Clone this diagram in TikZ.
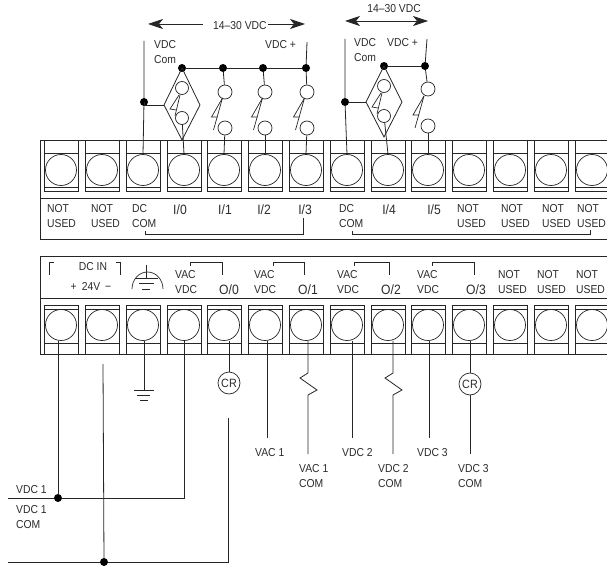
\documentclass[tikz,border=0pt]{standalone}
\usepackage{fontspec}
\setmainfont[FakeStretch=0.9]{Liberation Sans}
\usetikzlibrary{arrows.meta}
\definecolor{wirecol}{HTML}{262626}
\definecolor{labcol}{HTML}{2b2b2b}
\tikzset{
    wire/.style = {draw=wirecol, line width=0.8pt},
    term/.style = {circle, draw=wirecol, line width=0.7pt, minimum size=31pt, inner sep=0pt},
    swc/.style = {circle, draw=wirecol, line width=0.7pt, minimum size=14pt, inner sep=0pt},
    swd/.style = {circle, draw=wirecol, line width=0.7pt, minimum size=13pt, inner sep=0pt},
    crc/.style = {circle, draw=wirecol, line width=0.7pt, minimum size=22pt, inner sep=0pt, text=labcol, font=\fontsize{12}{12}\selectfont},
    jdot/.style = {circle, fill=black, minimum size=8pt, inner sep=0pt},
    lab/.style = {anchor=west, align=left, inner sep=0pt, text=labcol, font=\fontsize{11.5}{15}\selectfont},
    iolab/.style = {anchor=center, inner sep=0pt, text=labcol, font=\fontsize{13.5}{15}\selectfont},
    swblade/.pic = {
        \draw[wire, line width=0.7pt] (0,0) -- (-11,19) -- (-5,19);
        \draw[wire, line width=0.7pt] (0,0) -- (-9,32);
    }
}
\begin{document}
\begin{tikzpicture}[x=1pt, y=-1pt, >={Stealth[length=15pt,width=10pt,inset=4pt]}]
    \clip (0,0) rectangle (607,567);
    \foreach \x [count=\i] in {61,102,143,184,224,265,306,347,388,428,469,510,551,592} {
        \node[term] (ut\i) at (\x,170) {};
        \node[term] (lt\i) at (\x,325) {};
        \draw[wire, line width=0.7pt] (\x-17,141) -- (\x-17,191) -- (\x+17,191) -- (\x+17,141);
        \draw[wire, line width=0.7pt] (\x-17,153) -- (\x+17,153) (\x-17,187) -- (\x+17,187);
        \draw[wire, line width=0.7pt] (\x-17,354) -- (\x-17,305) -- (\x+17,305) -- (\x+17,354);
        \draw[wire, line width=0.7pt] (\x-17,309) -- (\x+17,309) (\x-17,343) -- (\x+17,343);
    }
    \draw[wire] (607,140) -- (40,140) -- (40,239) -- (607,239);
    \draw[wire] (40,198) -- (607,198);
    \draw[wire] (607,256) -- (40,256) -- (40,354) -- (607,354);
    \draw[wire] (40,298) -- (607,298);

    \coordinate (vca) at (144,41);
    \coordinate (vpa) at (307,42);
    \coordinate (vcb) at (345,39);
    \coordinate (vpb) at (427,39);
    \node[jdot] (dca) at (144,102) {};
    \node[jdot] (dcb) at (345,102) {};
    \node[jdot] (bus0) at (182,68) {};
    \node[jdot] (bus1) at (223,68) {};
    \node[jdot] (bus2) at (263,68) {};
    \node[jdot] (bus3) at (306,68) {};
    \node[jdot] (bus4) at (384,66) {};
    \node[jdot] (bus5) at (425,66) {};

    \coordinate (dia) at (164,105);
    \coordinate (dib) at (366,102);
    \draw[wire] (vca) -- (dca) -- (ut3.north);
    \draw[wire] (vcb) -- (dcb) -- (ut8.north);
    \draw[wire] (dca.center) |- (dia);
    \draw[wire] (dcb) -- (dib);
    \draw[wire] (bus0) -- (bus1) -- (bus2) -- (bus3);
    \draw[wire] (vpa) -- (bus3);
    \draw[wire] (bus4) -- (bus5);
    \draw[wire] (vpb) -- (bus5);

    \draw[wire] (bus0.center) -- (200,105) -- (182,140) -- (dia) -- cycle;
    \draw[wire] (bus4.center) -- (402,102) -- (384,137) -- (dib) -- cycle;

    \node[swd] (da) at (182,88) {};
    \node[swd] (db) at (182,118) {};
    \node[swd] (dc) at (384,86) {};
    \node[swd] (dd) at (384,116) {};
    \draw[wire] (db) -- (ut4.north);
    \draw[wire] (dd) -- (ut9.north);
    \draw[wire, line width=0.7pt] (179,95) -- (170,109) -- (176,110);
    \draw[wire, line width=0.7pt] (180,95) -- (175,116);
    \draw[wire, line width=0.7pt] (381,93) -- (372,107) -- (378,108);
    \draw[wire, line width=0.7pt] (382,93) -- (377,114);

    \foreach \x/\b/\t [count=\i] in {225/bus1/ut5, 265/bus2/ut6, 307/bus3/ut7} {
        \node[swc] (up\i) at (\x,92) {};
        \node[swc] (dn\i) at (\x,128) {};
        \draw[wire] (\b) -- (up\i);
        \draw[wire] (dn\i) -- (\t.north);
        \pic at (\x-2.5,98) {swblade};
    }
    \node[swc] (upd) at (428,89) {};
    \node[swc] (dnd) at (428,126) {};
    \draw[wire] (bus5) -- (upd);
    \draw[wire] (dnd) -- (ut10.north);
    \pic at (424,96) {swblade};

    \coordinate (ara) at (148,24);
    \coordinate (arl) at (203,24);
    \coordinate (arr) at (268,24);
    \coordinate (arb) at (305,24);
    \node[lab] (ta) at (213,26) {14–30 VDC};
    \draw[wire, <-] (ara) -- (arl);
    \draw[wire, ->] (arr) -- (arb);
    \coordinate (arc) at (345,21);
    \coordinate (ard) at (428,21);
    \draw[wire, <->] (arc) -- (ard);
    \node[lab, anchor=center] (tb) at (394,9) {14–30 VDC};

    \node[lab] (vda) at (154,52) {VDC\\Com};
    \node[lab] (vdb) at (265,45) {VDC +};
    \node[lab] (vdc) at (354,50) {VDC\\Com};
    \node[lab] (vdd) at (387,43) {VDC +};

    \foreach \x [count=\i] in {47,91,457,501,542,577} {
        \node[lab] (nu\i) at (\x,216) {NOT\\USED};
    }
    \node[lab] (dcca) at (132,216) {DC\\COM};
    \node[lab] (dccb) at (339,216) {DC\\COM};
    \node[iolab] (in0) at (180,210) {I/0};
    \node[iolab] (in1) at (225,210) {I/1};
    \node[iolab] (in2) at (264,210) {I/2};
    \node[iolab] (in3) at (305,210) {I/3};
    \node[iolab] (in4) at (389,210) {I/4};
    \node[iolab] (in5) at (434,210) {I/5};
    \draw[wire, line width=0.6pt] (145,231) -- (145,234) -- (303,234) -- (303,218);
    \draw[wire, line width=0.6pt] (352,231) -- (352,234) -- (590,234) -- (590,230);

    \node[lab, anchor=center] (dcin) at (93,267) {DC IN};
    \node[lab, anchor=center] (plus) at (91,286) {+\hspace{5pt}24V\hspace{5pt}−};
    \draw[wire, line width=0.6pt] (54,262) -- (49,262) -- (49,275);
    \draw[wire, line width=0.6pt] (116,262) -- (120,262) -- (120,275);
    \draw[wire, line width=0.7pt] (146,265) -- (146,278);
    \draw[wire, line width=0.7pt] (135,278) -- (158,278) (139,283) -- (154,283) (142,289) -- (150,289);
    \draw[wire, line width=0.7pt] (132,289) arc[start angle=180, end angle=360, x radius=15.5, y radius=17];

    \foreach \x/\a/\b [count=\i] in {175/190/222, 254/273/304, 337/354/389, 417/432/474} {
        \node[lab] (vv\i) at (\x,282.5) {VAC\\VDC};
        \draw[wire, line width=0.6pt] (\a,266) -- (\a,262) -- (\b,262) -- (\b,275);
    }
    \node[iolab] (ou0) at (229,290) {O/0};
    \node[iolab] (ou1) at (308,290) {O/1};
    \node[iolab] (ou2) at (391,290) {O/2};
    \node[iolab] (ou3) at (476,290) {O/3};
    \foreach \x [count=\i] in {498,537,576} {
        \node[lab] (nl\i) at (\x,282) {NOT\\USED};
    }

    \node[jdot] (dva) at (58,498) {};
    \node[jdot] (dvb) at (104,562) {};
    \coordinate (ria) at (8,498);
    \coordinate (rib) at (184,498);
    \coordinate (ric) at (8,562);
    \coordinate (rid) at (228,562);
    \coordinate (rie) at (228,418);
    \coordinate (rif) at (103,364);
    \coordinate (gnd) at (144,390);
    \draw[wire] (dva |- lt1.south) -- (dva);
    \draw[wire] (rif) -- (dvb);
    \draw[wire] (lt3.south -| gnd) -- (gnd);
    \draw[wire] (134,390) -- (154,390) (137,395) -- (150,395) (140,400) -- (148,400);
    \draw[wire] (ria) -- (dva) -- (rib) -- (lt4.south);
    \draw[wire] (ric) -- (dvb) -- (rid) -- (rie);

    \node[crc] (cra) at (229,383) {CR};
    \node[crc] (crb) at (470,384) {CR};
    \coordinate (eva) at (267,438);
    \coordinate (evb) at (352,438);
    \coordinate (evc) at (429,438);
    \coordinate (eca) at (308,454);
    \coordinate (ecb) at (393,454);
    \coordinate (ecc) at (470,454);
    \draw[wire] (cra |- lt5.south) -- (cra);
    \draw[wire] (crb |- lt11.south) -- (crb);
    \draw[wire] (crb) -- (ecc);
    \draw[wire] (eva |- lt6.south) -- (eva);
    \draw[wire] (evb |- lt8.south) -- (evb);
    \draw[wire] (evc |- lt10.south) -- (evc);
    \draw[wire] (eca |- lt7.south) -- (308,373) -- (300,378) -- (317,390) -- (308,395) -- (eca);
    \draw[wire] (ecb |- lt9.south) -- (393,373) -- (385,378) -- (402,390) -- (393,395) -- (ecb);

    \node[lab] (lva) at (255,453) {VAC 1};
    \node[lab] (lvb) at (342,453) {VDC 2};
    \node[lab] (lvc) at (417,453) {VDC 3};
    \node[lab] (lca) at (299,476.5) {VAC 1\\COM};
    \node[lab] (lcb) at (378,476.5) {VDC 2\\COM};
    \node[lab] (lcc) at (458,476.5) {VDC 3\\COM};
    \node[lab] (lvd) at (16,490) {VDC 1};
    \node[lab] (lcd) at (16,517.5) {VDC 1\\COM};
\end{tikzpicture}
\end{document}
